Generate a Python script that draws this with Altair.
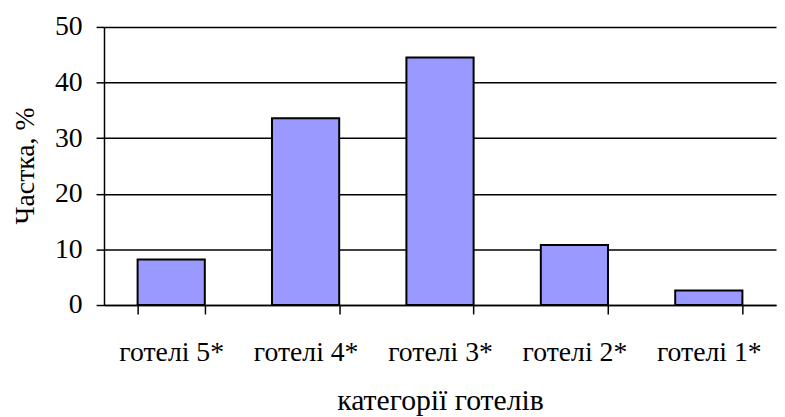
import altair as alt
import pandas as pd

categories = ["готелі 5*", "готелі 4*", "готелі 3*", "готелі 2*", "готелі 1*"]
values = [8.2, 33.6, 44.5, 10.8, 2.6]

df = pd.DataFrame({"cat": categories, "val": values})

FONT = "Liberation Serif"

chart = alt.Chart(df).mark_bar(
    color="#9999FF", stroke="black", strokeWidth=2
).encode(
    x=alt.X("cat:N", sort=categories, scale=alt.Scale(paddingInner=0.5, paddingOuter=0.25),
            axis=alt.Axis(title="категорії готелів", labelAngle=0, tickBand="extent",
                          tickSize=9, labelPadding=47, labelBaseline="alphabetic",
                          labelFont=FONT, titleFont=FONT, labelFontSize=28,
                          titleY=105.5, titleBaseline="alphabetic", titleFontSize=30,
                          grid=False)),
    y=alt.Y("val:Q", scale=alt.Scale(domain=[0, 50]),
            axis=alt.Axis(title="Частка, %", values=[0, 10, 20, 30, 40, 50], tickSize=8,
                          labelFont=FONT, titleFont=FONT, labelFontSize=28, titleFontSize=28,
                          labelPadding=14, grid=True, titleX=-79, titleY=140,
                          titleAngle=270, titleAlign="center", titleBaseline="middle")),
).properties(
    width=679, height=281,
    autosize=alt.AutoSizeParams(type="none"),
    padding={"left": 97, "top": 17, "right": 1, "bottom": 110},
).configure_axis(
    labelFont=FONT, titleFont=FONT,
    titleFontWeight="normal", labelColor="black", titleColor="black",
    domainColor="black", domainWidth=1.5, tickColor="black", tickWidth=1.5,
    gridColor="black", gridWidth=1.5, gridOpacity=1,
).configure_view(stroke=None)

chart.save("out.html", embed_options={"renderer": "svg", "actions": False})
